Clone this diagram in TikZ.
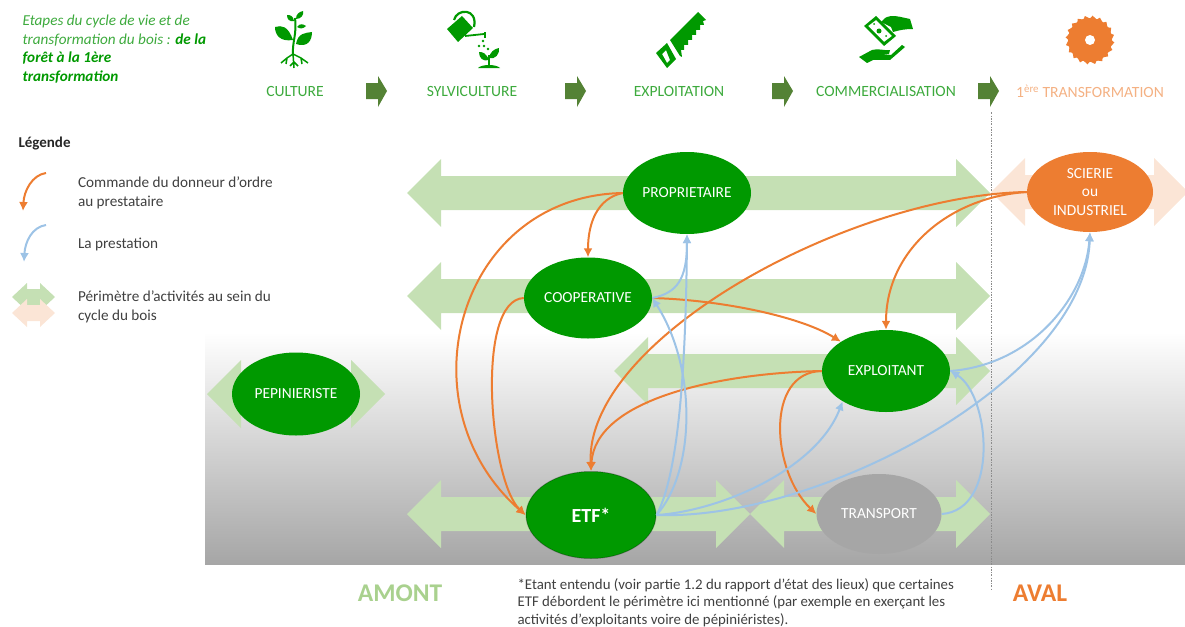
\documentclass[tikz,border=0pt]{standalone}
\usepackage{fontspec}
\setmainfont{Carlito}
\usetikzlibrary{arrows.meta}
\usetikzlibrary{shapes.geometric}

\definecolor{vertfonce}{HTML}{009900}
\definecolor{vertlabel}{HTML}{3DAA3D}
\definecolor{vertclair}{HTML}{C5E0B4}
\definecolor{vertfleche}{HTML}{548235}
\definecolor{vertamont}{HTML}{A9D18E}
\definecolor{orange}{HTML}{ED7D31}
\definecolor{orangeclair}{HTML}{FBE5D6}
\definecolor{orangelabel}{HTML}{F4B183}
\definecolor{bleu}{HTML}{9DC3E6}
\definecolor{texte}{HTML}{404040}

\tikzset{
    acteur/.style={ellipse,inner sep=0pt,text=white,align=center,font=\fontsize{15.4}{18.5}\selectfont},
    etape/.style={font=\fontsize{15.6}{17}\selectfont,text=vertlabel},
    legende/.style={anchor=west,align=left,text=texte,font=\fontsize{15.2}{18.5}\selectfont},
    commande/.style={draw=orange,line width=2pt,-{Latex[length=9pt,width=9pt]}},
    prestation/.style={draw=bleu,line width=2pt,-{Latex[length=9pt,width=9pt]}},
}

% #1 couleur, #2 x gauche, #3 x droite, #4 y, #5 demi hauteur tete, #6 demi hauteur corps, #7 longueur tete
\newcommand{\perimetre}[7]{
    \fill[#1] (#2,#4) -- ({#2+#7},{#4-#5}) -- ({#2+#7},{#4-#6}) -- ({#3-#7},{#4-#6}) -- ({#3-#7},{#4-#5})
        -- (#3,#4) -- ({#3-#7},{#4+#5}) -- ({#3-#7},{#4+#6}) -- ({#2+#7},{#4+#6}) -- ({#2+#7},{#4+#5}) -- cycle;
}

\begin{document}
\begin{tikzpicture}[x=1pt,y=-1pt]
    \useasboundingbox (0,0) rectangle (1185,626);

    % fond degrade
    \shade[top color=white,middle color=black!10,bottom color=black!35] (205,332) rectangle (1185,564);

    % entete
    \node[anchor=north west,align=left,text=vertlabel,font=\fontsize{15.2}{18.5}\selectfont\itshape] (titre) at (19,11.5)
        {Etapes du cycle de vie et de\\transformation du bois : \textcolor{vertfonce}{\bfseries de la}\\
        \textcolor{vertfonce}{\bfseries forêt à la 1ère}\\\textcolor{vertfonce}{\bfseries transformation}};
    \node[etape] (culture) at (295,91) {CULTURE};
    \node[etape] (sylvi) at (472,91) {SYLVICULTURE};
    \node[etape] (exploitation) at (679,91) {EXPLOITATION};
    \node[etape] (commerce) at (886,91) {COMMERCIALISATION};
    \node[etape,text=orangelabel] (transfo) at (1090,91) {1\textsuperscript{ère} TRANSFORMATION};

    \foreach \x in {366,565,772,978}
        \fill[vertfleche] (\x,83) -- ({\x+12},83) -- ({\x+12},76) -- ({\x+21},91) -- ({\x+12},107) -- ({\x+12},99) -- (\x,99) -- cycle;

    % plante
    \fill[vertfonce] (293,40) .. controls (288,26) and (282,25) .. (275,27) .. controls (275,35) and (280,42) .. (293,40) -- cycle;
    \fill[vertfonce] (296,44) .. controls (298,33) and (305,33) .. (312,32) .. controls (312,40) and (308,48) .. (296,44) -- cycle;
    \fill[vertfonce] (294,21) .. controls (293,16) and (291,15) .. (287,15) .. controls (287,19) and (289,22) .. (294,21) -- cycle;
    \fill[vertfonce] (296,19) .. controls (296,14) and (299,12) .. (303,11) .. controls (304,15) and (301,19) .. (296,19) -- cycle;
    \fill[vertfonce] (297,27) .. controls (300,23) and (303,24) .. (306,26) .. controls (303,29) and (300,29) .. (297,27) -- cycle;
    \draw[vertfonce,line width=2pt] (293,55) .. controls (292,42) and (297,35) .. (295,18);
    \draw[vertfonce,line width=1.5pt] (293,54) -- (287,58) -- (281,63) (287,58) -- (286,64) (293,54) -- (301,58) -- (308,63)
        (301,58) -- (302,64) (293,54) -- (294,68) (294,62) -- (290,66) (294,62) -- (298,66);

    % arrosoir
    \fill[vertfonce] (447,29) -- (462,16) -- (473,28) -- (458,42) -- cycle;
    \draw[vertfonce,line width=2.2pt] (454,20) .. controls (457,8) and (478,8) .. (474,27);
    \draw[vertfonce,line width=1.8pt] (465,36) -- (484,34);
    \fill[vertfonce] (484,32) rectangle (485.5,38);
    \foreach \x/\y in {483/41,479/46,484/46,488/49}
        \fill[vertfonce] (\x,\y) circle[radius=1.4];
    \fill[vertfonce] (489,60) .. controls (486,53) and (483,52) .. (479,52) .. controls (479,58) and (483,62) .. (489,60) -- cycle;
    \fill[vertfonce] (489,58) .. controls (490,52) and (494,49) .. (499,48) .. controls (500,54) and (495,60) .. (489,58) -- cycle;
    \draw[vertfonce,line width=1.5pt] (489,55) -- (489,66);
    \fill[vertfonce] (478,68) .. controls (482,64) and (496,64) .. (500,68) -- cycle;

    % scie
    \fill[vertfonce] (670,40) -- (698,12) -- (706,20) -- (703,21) -- (704,25) -- (700,25) -- (700,30) -- (696,30) -- (696,35) -- (692,35)
        -- (692,40) -- (688,40) -- (688,45) -- (684,45) -- (684,50) -- (681,50) -- (682,57) -- (680,56) -- cycle;
    \fill[vertfonce,even odd rule] (656,53) -- (667,43) -- (676,59) -- (667,68) -- cycle (662,54) -- (666,50) -- (670,60) -- (667,63) -- cycle;

    % billet et mains
    \fill[vertfonce,even odd rule] (864,26) -- (876,16) -- (896,36) -- (884,46) -- cycle (868,26) -- (876,20) -- (892,36) -- (884,42) -- cycle;
    \fill[vertfonce] (879,31) circle[radius=2.5];
    \fill[vertfonce] (874,24) circle[radius=1] (886,36) circle[radius=1];
    \fill[vertfonce] (885,18) .. controls (892,14) and (900,17) .. (910,19) -- (913,29) .. controls (905,29) and (900,30) .. (893,32) -- (891,27) -- (881,22) -- cycle;
    \fill[vertfonce] (859,57) -- (872,50) .. controls (878,48) and (885,51) .. (890,50) -- (889,54) -- (880,55) -- (891,55) -- (902,45) -- (905,47) -- (890,60) -- (873,60) -- (867,63) -- cycle;

    % lame
    \fill[orange] \foreach \a in {0,18,...,342} { (1090,40) -- ({1090+21.5*cos(\a)},{40+21.5*sin(\a)}) -- ({1090+24.5*cos(\a+6)},{40+24.5*sin(\a+6)}) -- ({1090+21.5*cos(\a+18)},{40+21.5*sin(\a+18)}) -- cycle };
    \fill[orange] (1090,40) circle[radius=22];
    \fill[white] (1090,40) circle[radius=5];

    % legende
    \node[anchor=west,text=black!85,font=\fontsize{15}{17}\selectfont\bfseries] (legtitre) at (15,143.5) {Légende};
    \coordinate (cmd1) at (46,173);
    \coordinate (cmd2) at (23,211);
    \coordinate (pre1) at (46,225);
    \coordinate (pre2) at (24,262);
    \draw[commande] (cmd1) .. controls +(-14,2) and +(1,-20) .. (cmd2);
    \draw[prestation] (pre1) .. controls +(-14,2) and +(1,-20) .. (pre2);
    \node[legende] (leg1) at (74.5,193) {Commande du donneur d’ordre\\au prestataire};
    \node[legende] (leg2) at (74.5,244) {La prestation};
    \node[legende] (leg3) at (74.5,307) {Périmètre d’activités au sein du\\cycle du bois};
    \perimetre{vertclair}{12}{55}{297}{14}{8}{15}
    \perimetre{orangeclair}{12}{55}{313}{14}{8}{15}

    % perimetres
    \perimetre{vertclair}{407}{990}{193}{34}{17}{34}
    \perimetre{vertclair}{407}{990}{296}{34}{17}{34}
    \perimetre{vertclair}{614}{990}{371}{34}{17}{34}
    \perimetre{vertclair}{407}{750}{514}{34}{17}{34}
    \perimetre{vertclair}{750}{990}{514}{34}{17}{34}
    \perimetre{vertclair}{207}{385}{394}{34}{17}{34}
    \perimetre{orangeclair}{991}{1188}{192}{34}{17}{34}

    % separation amont aval
    \draw[black!45,dash pattern=on 2pt off 1.5pt on 0.5pt off 1.5pt,line width=0.7pt] (991,112) -- (991,590);

    % acteurs
    \node[acteur,fill=vertfonce,minimum width=128pt,minimum height=82pt] (prop) at (687,193) {PROPRIETAIRE};
    \node[acteur,fill=vertfonce,minimum width=128pt,minimum height=81pt] (coop) at (588,298) {COOPERATIVE};
    \node[acteur,fill=vertfonce,minimum width=128pt,minimum height=82pt] (expl) at (886,371) {EXPLOITANT};
    \node[acteur,fill=vertfonce,minimum width=128pt,minimum height=83pt] (pepi) at (296,394) {PEPINIERISTE};
    \node[acteur,fill=black!35,minimum width=125pt,minimum height=80pt] (transport) at (879,514) {TRANSPORT};
    \node[acteur,fill=vertfonce,draw=black,draw opacity=0.25,line width=1pt,minimum width=130pt,minimum height=87pt,font=\fontsize{20}{22}\selectfont\bfseries] (etf) at (591,515) {ETF*};
    \node[acteur,fill=orange,minimum width=126pt,minimum height=80pt] (scierie) at (1090,192) {SCIERIE\\ou\\INDUSTRIEL};

    % commandes
    \draw[commande] (prop.west) .. controls +(-165,3) and +(-125,-110) .. (etf.west);
    \draw[commande] (prop.west) .. controls +(-25,5) and +(0,-35) .. (coop.north);
    \draw[commande] (coop.west) .. controls +(-49,2) and +(-36,-34) .. (etf.west);
    \draw[commande] (coop.east) .. controls +(70,2) and +(-40,-25) .. (expl.147);
    \draw[commande] (scierie.west) .. controls +(-177,3) and +(-6,-132) .. (etf.north);
    \draw[commande] (scierie.west) .. controls +(-77,5) and +(0,-80) .. (expl.north);
    \draw[commande] (expl.west) .. controls +(-102,2) and +(4,-72) .. (etf.north);
    \draw[commande] (expl.west) .. controls +(-57,1) and +(-45,-43) .. (transport.west);

    % prestations
    \draw[prestation] (etf.east) .. controls +(39,-44) and +(45,70) .. (coop.east);
    \draw[prestation] (etf.east) .. controls +(24,-44) and +(-1,116) .. (prop.south);
    \draw[prestation] (coop.east) .. controls +(25,-5) and +(0,45) .. (prop.south);
    \draw[prestation] (etf.east) .. controls +(64,-4) and +(-26,68) .. (expl.215);
    \draw[prestation] (etf.east) .. controls +(164,6) and +(-5,147) .. (scierie.south);
    \draw[prestation] (expl.east) .. controls +(80,-6) and +(-5,67) .. (scierie.south);
    \draw[prestation] (transport.east) .. controls +(58,-4) and +(40,24) .. (expl.east);

    % bas de page
    \node[font=\fontsize{25.5}{28}\selectfont\bfseries,text=vertamont] (amont) at (400,593) {AMONT};
    \node[font=\fontsize{25.5}{28}\selectfont\bfseries,text=orange] (aval) at (1040,593) {AVAL};
    \node[anchor=north west,align=left,text=texte,font=\fontsize{14.85}{17.5}\selectfont] (note) at (514,575)
        {*Etant entendu (voir partie 1.2 du rapport d’état des lieux) que certaines\\
        ETF débordent le périmètre ici mentionné (par exemple en exerçant les\\
        activités d’exploitants voire de pépiniéristes).};
\end{tikzpicture}
\end{document}
